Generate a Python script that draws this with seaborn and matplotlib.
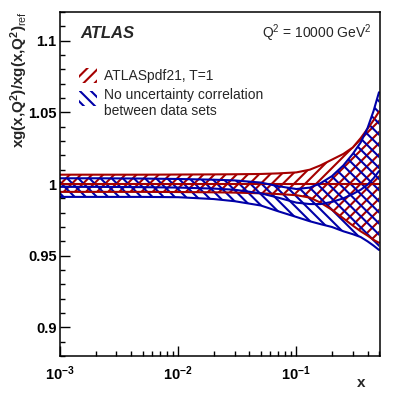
import numpy as np
import pandas as pd
import matplotlib
matplotlib.use("Agg")
import matplotlib.pyplot as plt
from matplotlib.patches import Rectangle
from matplotlib.ticker import FixedLocator, NullFormatter
import seaborn as sns

# ---- data ----
x_vals = [0.001, 0.002, 0.005, 0.01, 0.02, 0.03, 0.05, 0.07, 0.1, 0.13,
          0.16, 0.2, 0.25, 0.3, 0.35, 0.4, 0.45, 0.5]
red_central = [1.0] * len(x_vals)
red_upper = [1.0065, 1.0065, 1.0065, 1.0066, 1.0067, 1.0068, 1.0070, 1.0074, 1.0081,
             1.0100, 1.0130, 1.0170, 1.0210, 1.0255, 1.0320, 1.0385, 1.0445, 1.0505]
red_lower = [0.9945, 0.9945, 0.9945, 0.9944, 0.9942, 0.9940, 0.9935, 0.9930, 0.9922,
             0.9905, 0.9870, 0.9820, 0.9760, 0.9710, 0.9670, 0.9640, 0.9610, 0.9590]
blue_central = [0.9980, 0.9980, 0.9978, 0.9975, 0.9968, 0.9960, 0.9935, 0.9905, 0.9870,
                0.9860, 0.9860, 0.9875, 0.9900, 0.9930, 0.9960, 0.9995, 1.0040, 1.0090]
blue_upper = [1.0040, 1.0040, 1.0038, 1.0035, 1.0030, 1.0025, 1.0010, 0.9985, 0.9965,
              0.9975, 1.0005, 1.0055, 1.0130, 1.0210, 1.0290, 1.0390, 1.0510, 1.0640]
blue_lower = [0.9910, 0.9910, 0.9910, 0.9908, 0.9895, 0.9880, 0.9850, 0.9810, 0.9770,
              0.9740, 0.9720, 0.9700, 0.9670, 0.9650, 0.9630, 0.9600, 0.9570, 0.9540]

label_red = "ATLASpdf21, T=1"
label_blue = "No uncertainty correlation\nbetween data sets"
y_ticks = [0.9, 0.95, 1.0, 1.05, 1.1]
y_ticklabels = ["0.9", "0.95", "1", "1.05", "1.1"]
x_ticks = [1e-3, 1e-2, 1e-1]
x_ticklabels = [r"$\mathbf{10^{-3}}$", r"$\mathbf{10^{-2}}$", r"$\mathbf{10^{-1}}$"]

RED = "#A50000"
BLUE = "#0000A8"

sns.set_theme(style="ticks")
plt.rcParams["font.family"] = ["Liberation Sans", "DejaVu Sans"]
plt.rcParams["mathtext.fontset"] = "custom"
plt.rcParams["mathtext.rm"] = "Liberation Sans"
plt.rcParams["mathtext.it"] = "Liberation Sans:italic"
plt.rcParams["mathtext.bf"] = "Liberation Sans:bold"
plt.rcParams["hatch.linewidth"] = 1.5

fig = plt.figure(figsize=(3.99, 3.96), dpi=100)
ax = fig.add_axes([60 / 399, 1 - 356 / 396, 320 / 399, 344 / 396])

df = pd.DataFrame({
    "x": x_vals * 2,
    "central": red_central + blue_central,
    "upper": red_upper + blue_upper,
    "lower": red_lower + blue_lower,
    "set": ["red"] * len(x_vals) + ["blue"] * len(x_vals),
})
palette = {"red": RED, "blue": BLUE}
hatches = {"red": "///", "blue": "\\\\\\"}

for name in ["red", "blue"]:
    sub = df[df["set"] == name]
    ax.fill_between(sub["x"], sub["lower"], sub["upper"], facecolor="none",
                    edgecolor=palette[name], hatch=hatches[name], linewidth=0)
    for col in ["upper", "lower", "central"]:
        sns.lineplot(data=sub, x="x", y=col, ax=ax, color=palette[name],
                     linewidth=1.5, estimator=None, legend=False)

ax.set_xscale("log")
ax.set_xlim(1e-3, 0.51)
ax.set_ylim(0.88, 1.12)

ax.set_yticks(y_ticks)
ax.set_yticklabels(y_ticklabels, fontweight="bold", fontsize=10.5)
ax.yaxis.set_minor_locator(FixedLocator(np.round(np.arange(0.88, 1.1201, 0.01), 3)))
ax.set_xticks(x_ticks)
ax.set_xticklabels(x_ticklabels, fontsize=10.5)
minors = [m * 10.0 ** e for e in (-3, -2, -1) for m in range(2, 10) if m * 10.0 ** e < 0.51]
ax.xaxis.set_minor_locator(FixedLocator(minors))
ax.xaxis.set_minor_formatter(NullFormatter())

ax.tick_params(axis="both", which="major", direction="in", length=7, width=1.0,
               color="black", pad=2.5, labelcolor="black")
ax.tick_params(axis="both", which="minor", direction="in", length=3.6, width=1.0,
               color="black")
ax.tick_params(axis="x", which="major", pad=6)
for s in ax.spines.values():
    s.set_linewidth(1.1)
    s.set_color("black")

ax.set_xlabel("")
ax.set_ylabel("")
fig.text(361 / 399, 1 - 383 / 396, "x", fontsize=11, fontweight="bold",
         ha="center", va="center")
fig.text(19 / 399, 1 - 11 / 396,
         r"xg(x,Q$^{\mathbf{2}}$)/xg(x,Q$^{\mathbf{2}}$)$_{\rm ref}$",
         rotation=90, fontsize=11, fontweight="bold", ha="center", va="top")

fig.text(80 / 399, 1 - 34 / 396, "ATLAS", fontsize=12, fontweight="bold",
         fontstyle="italic", ha="left", va="center")
fig.text(372 / 399, 1 - 33 / 396, r"Q$^2$ = 10000 GeV$^2$", fontsize=10,
         ha="right", va="center")

# manual legend
trans = fig.transFigure
for (y0, y1, name) in [(68, 83, "red"), (91, 106, "blue")]:
    r = Rectangle((79 / 399, 1 - y1 / 396), 18 / 399, (y1 - y0) / 396,
                  transform=trans, facecolor="none", edgecolor=palette[name],
                  hatch=hatches[name], linewidth=0)
    fig.add_artist(r)
fig.text(104 / 399, 1 - 76 / 396, label_red, fontsize=10, ha="left", va="center")
fig.text(104 / 399, 1 - 103 / 396, label_blue, fontsize=10, ha="left",
         va="center", linespacing=1.15)

fig.savefig("out.png", dpi=100)
